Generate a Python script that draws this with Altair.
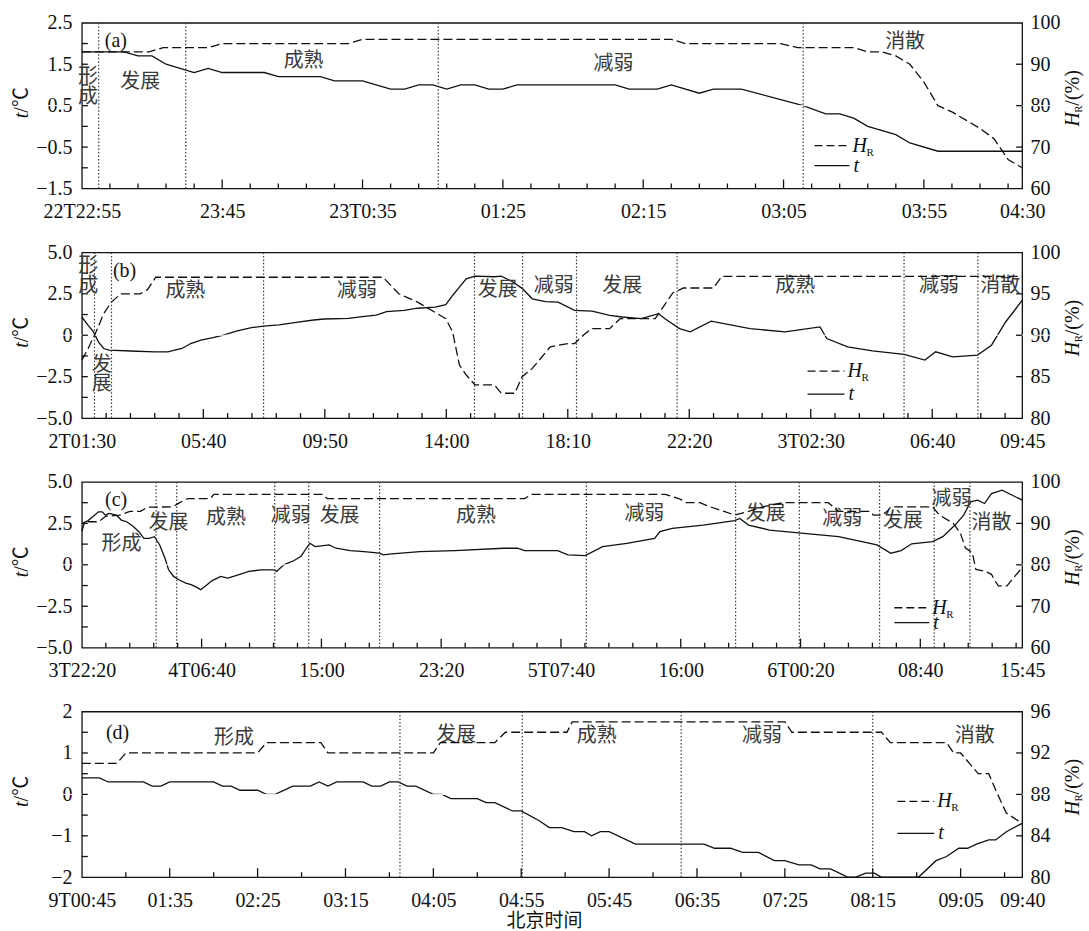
import altair as alt
import pandas as pd

# ---------------- values ----------------
# x = minutes after the first labelled time of each panel

# panel (a)
A_END = 335
A_XLAB_POS = [0, 50, 100, 150, 200, 250, 300, 335]
A_XLAB = ["22T22:55", "23:45", "23T0:35", "01:25", "02:15", "03:05", "03:55", "04:30"]
A_T = [(0, 1.8), (15, 1.8), (20, 1.7), (25, 1.7), (30, 1.5), (40, 1.3), (45, 1.4), (50, 1.3),
       (65, 1.3), (70, 1.2), (85, 1.2), (90, 1.1), (100, 1.1), (110, 0.9), (115, 0.9), (120, 1.0),
       (125, 1.0), (130, 0.9), (135, 1.0), (140, 1.0), (145, 0.9), (150, 0.9), (155, 1.0), (190, 1.0),
       (195, 0.9), (205, 0.9), (210, 1.0), (220, 0.8), (225, 0.9), (235, 0.9), (257, 0.5), (265, 0.3),
       (270, 0.3), (275, 0.2), (280, 0.0), (290, -0.2), (295, -0.4), (305, -0.6), (335, -0.6)]
A_HR = [(0, 93), (24, 93), (29, 94), (45, 94), (50, 95), (95, 95), (100, 96), (210, 96), (215, 95),
        (249, 95), (255, 94), (275, 94), (280, 93), (285, 93), (290, 92), (295, 90), (300, 85.7),
        (305, 80), (310, 78.5), (315, 76.5), (320, 74.5), (325, 72), (328, 69), (330, 67), (335, 65)]
A_STAGES = [6, 37, 127, 257]
A_TEXT = [(2.2, 1.19, "形"), (2.2, 0.71, "成"), (20.8, 1.07, "发展"), (79, 1.57, "成熟"),
          (189.4, 1.51, "减弱"), (293.3, 2.03, "消散")]
A_TAG = (12.1, 2.05, "(a)")

# panel (b)
B_END = 1935
B_XLAB_POS = [0, 250, 500, 750, 1000, 1250, 1500, 1750, 1935]
B_XLAB = ["2T01:30", "05:40", "09:50", "14:00", "18:10", "22:20", "3T02:30", "06:40", "09:45"]
B_T = [(0, 1.1), (13, 0.6), (24, 0.2), (34, -0.4), (45, -0.8), (56, -0.9), (100, -0.95), (150, -1.0),
       (177, -1.0), (191, -0.9), (206, -0.8), (224, -0.5), (245, -0.3), (270, -0.15), (291, 0.0),
       (320, 0.26), (349, 0.46), (374, 0.55), (406, 0.62), (441, 0.78), (477, 0.92), (499, 0.98),
       (549, 1.02), (577, 1.12), (606, 1.22), (627, 1.43), (663, 1.5), (691, 1.63), (727, 1.7),
       (749, 1.85), (763, 2.4), (777, 2.9), (791, 3.4), (809, 3.57), (849, 3.53), (863, 3.57),
       (884, 3.27), (906, 2.83), (927, 2.2), (954, 2.03), (980, 2.0), (1014, 1.5), (1050, 1.45),
       (1086, 1.2), (1112, 1.1), (1151, 1.0), (1187, 1.3), (1200, 1.0), (1230, 0.4), (1252, 0.2),
       (1295, 0.85), (1375, 0.4), (1447, 0.2), (1519, 0.5), (1533, -0.2), (1576, -0.7), (1627, -0.95),
       (1692, -1.15), (1735, -1.5), (1757, -1.0), (1792, -1.3), (1843, -1.2), (1872, -0.6),
       (1901, 0.8), (1935, 2.1)]
B_HR = [(0, 87), (13, 88.4), (30, 90.5), (45, 92.6), (61, 94), (80, 95), (120, 95), (135, 95.5),
        (152, 97), (620, 97), (652, 95), (691, 94), (749, 92), (763, 90.4), (777, 86.4), (791, 85.2),
        (809, 84), (849, 84), (863, 83), (891, 83), (906, 85), (927, 86), (964, 88.6), (1000, 89),
        (1014, 89), (1036, 90.2), (1050, 90.8), (1086, 90.8), (1108, 92), (1180, 92), (1202, 93.9),
        (1216, 95.1), (1238, 95.7), (1300, 95.7), (1317, 97.1), (1935, 97.1)]
B_STAGES = [26, 61, 374, 808, 907, 1018, 1225, 1692, 1844]
B_TEXT = [(13, 4.16, "形"), (13, 2.95, "成"), (41, -1.77, "发"), (41, -2.97, "展"),
          (213, 2.65, "成熟"), (566, 2.65, "减弱"), (856, 2.75, "发展"), (971, 2.95, "减弱"),
          (1112, 2.95, "发展"), (1468, 2.95, "成熟"), (1764, 2.95, "减弱"), (1890, 2.95, "消散")]
B_TAG = (88, 3.86, "(b)")

# panel (c)
C_END = 3925
C_XLAB_POS = [0, 500, 1000, 1500, 2000, 2500, 3000, 3500, 3925]
C_XLAB = ["3T22:20", "4T06:40", "15:00", "23:20", "5T07:40", "16:00", "6T00:20", "08:40", "15:45"]
C_T = [(0, 2.49), (26, 2.67), (70, 3.2), (85, 3.2), (99, 3.0), (114, 3.1), (143, 3.0), (165, 2.7),
       (187, 2.6), (216, 2.3), (238, 2.0), (259, 1.6), (281, 1.6), (303, 1.7), (325, 1.2), (347, 0.4),
       (362, -0.3), (383, -0.7), (405, -0.9), (434, -1.1), (456, -1.2), (478, -1.35), (496, -1.5),
       (515, -1.3), (544, -0.95), (580, -0.7), (609, -0.8), (653, -0.6), (697, -0.4), (748, -0.3),
       (799, -0.3), (813, -0.4), (843, 0.0), (886, 0.26), (915, 0.52), (937, 1.0), (952, 1.3),
       (974, 1.1), (1032, 1.2), (1061, 1.0), (1120, 0.86), (1178, 0.8), (1243, 0.7), (1258, 0.6),
       (1294, 0.66), (1411, 0.8), (1557, 0.86), (1761, 1.0), (1819, 1.0), (1848, 0.86), (1986, 0.86),
       (2029, 0.6), (2101, 0.56), (2174, 1.1), (2275, 1.3), (2391, 1.6), (2413, 2.0), (2464, 2.2),
       (2594, 2.4), (2725, 2.67), (2746, 2.8), (2783, 2.4), (2870, 2.1), (3014, 1.9), (3159, 1.7),
       (3319, 1.2), (3377, 0.7), (3420, 0.86), (3464, 1.27), (3551, 1.4), (3594, 1.7), (3645, 2.4),
       (3681, 3.0), (3710, 3.8), (3739, 3.9), (3768, 3.7), (3797, 4.3), (3841, 4.5), (3884, 4.2),
       (3925, 3.9)]
C_HR = [(0, 88.1), (12, 90.4), (70, 90.4), (99, 91.7), (157, 92), (201, 92.9), (245, 92.9),
        (274, 93.9), (380, 94), (405, 94.9), (442, 96), (536, 96), (551, 97), (1003, 97), (1025, 96),
        (1848, 96), (1878, 97), (2435, 97), (2493, 96), (2522, 95), (2580, 95), (2623, 94),
        (2681, 92.9), (2725, 92), (2783, 92.9), (2841, 94), (2928, 95), (3116, 95), (3159, 92.9),
        (3290, 92.9), (3304, 92), (3340, 92), (3362, 92.9), (3377, 94), (3551, 94), (3580, 92),
        (3638, 90), (3667, 87.7), (3688, 84.1), (3717, 82.9), (3732, 78.9), (3768, 78.5),
        (3797, 77.7), (3812, 76.1), (3826, 74.9), (3862, 74.9), (3884, 76.5), (3925, 79.3)]
C_STAGES = [310, 396, 805, 947, 1243, 2106, 2729, 2995, 3330, 3558, 3707]
C_TEXT = [(165, 1.25, "形成"), (362, 2.55, "发展"), (602, 2.85, "成熟"), (872, 2.95, "减弱"),
          (1076, 2.95, "发展"), (1645, 2.95, "成熟"), (2348, 3.05, "减弱"), (2855, 3.05, "发展"),
          (3174, 2.75, "减弱"), (3428, 2.65, "发展"), (3630, 3.96, "减弱"), (3797, 2.55, "消散")]
C_TAG = (143, 3.9, "(c)")

# panel (d)
D_END = 535
D_XLAB_POS = [0, 50, 100, 150, 200, 250, 300, 350, 400, 450, 500, 535]
D_XLAB = ["9T00:45", "01:35", "02:25", "03:15", "04:05", "04:55", "05:45", "06:35", "07:25",
          "08:15", "09:05", "09:40"]
D_T = [(0, 0.4), (10, 0.4), (15, 0.3), (35, 0.3), (40, 0.2), (45, 0.2), (50, 0.3), (75, 0.3),
       (80, 0.2), (85, 0.2), (90, 0.1), (100, 0.1), (105, 0.0), (110, 0.0), (120, 0.2), (130, 0.2),
       (135, 0.3), (140, 0.2), (145, 0.3), (160, 0.3), (165, 0.2), (170, 0.2), (175, 0.3), (180, 0.3),
       (185, 0.2), (190, 0.2), (200, 0.0), (205, 0.0), (210, -0.1), (225, -0.1), (230, -0.2),
       (235, -0.2), (245, -0.4), (250, -0.4), (260, -0.63), (266, -0.8), (273, -0.8), (280, -0.9),
       (286, -0.9), (290, -1.0), (295, -0.9), (300, -0.9), (315, -1.2), (354, -1.2), (360, -1.3),
       (369, -1.3), (376, -1.4), (385, -1.4), (394, -1.6), (400, -1.6), (408, -1.7), (415, -1.7),
       (420, -1.8), (426, -1.8), (436, -2.0), (440, -2.0), (446, -1.9), (451, -1.9), (455, -2.0),
       (476, -2.0), (486, -1.6), (492, -1.5), (499, -1.3), (504, -1.3), (509, -1.2), (516, -1.1),
       (520, -1.1), (526, -0.9), (535, -0.7)]
D_HR = [(0, 91), (20, 91), (25, 92), (100, 92), (105, 93), (136, 93), (140, 92), (200, 92),
        (204, 93), (235, 93), (241, 94), (276, 94), (279, 95), (400, 95), (404, 94), (455, 94),
        (460, 93), (492, 93), (496, 92), (500, 92), (510, 90), (516, 90), (520, 88.4), (526, 86.2),
        (535, 85.2)]
D_STAGES = [181, 250.6, 341, 450]
D_TEXT = [(86.5, 1.36, "形成"), (213, 1.44, "发展"), (293, 1.4, "成熟"), (387, 1.4, "减弱"),
          (508, 1.4, "消散")]
D_TAG = (20.3, 1.49, "(d)")

# axes
A_TDOM, A_TLAB, A_TTICK = [-1.5, 2.5], [-1.5, -0.5, 0.5, 1.5, 2.5], [-1.0, -0.5, 0, 0.5, 1.0, 1.5, 2.0]
B_TDOM, B_TLAB, B_TTICK = [-5, 5], [-5, -2.5, 0, 2.5, 5], [-3.75, -2.5, -1.25, 0, 1.25, 2.5, 3.75]
C_TDOM, C_TLAB, C_TTICK = [-5, 5], [-5, -2.5, 0, 2.5, 5], [-3.75, -2.5, -1.25, 0, 1.25, 2.5, 3.75]
D_TDOM, D_TLAB, D_TTICK = [-2, 2], [-2, -1, 0, 1, 2], [-1.5, -1, -0.5, 0, 0.5, 1, 1.5]
A_HDOM, A_HLAB = [60, 100], [60, 70, 80, 90, 100]
B_HDOM, B_HLAB = [80, 100], [80, 85, 90, 95, 100]
C_HDOM, C_HLAB = [60, 100], [60, 70, 80, 90, 100]
D_HDOM, D_HLAB = [80, 96], [80, 84, 88, 92, 96]

# ---------------- layout / style ----------------
W, H = 942, 166
SERIF = "Liberation Serif"
MIXED = "Liberation Serif, Noto Sans CJK SC"
CJK = "Noto Sans CJK SC"
INK = "#111111"
GREY = "#3a3a3a"
FS = 20      # tick labels
FSC = 20     # Chinese stage labels

PANELS = [
    dict(end=A_END, xpos=A_XLAB_POS, xlab=A_XLAB, t=A_T, hr=A_HR, stages=A_STAGES, text=A_TEXT,
         tag=A_TAG, tdom=A_TDOM, tlab=A_TLAB, ttick=A_TTICK, tfmt="1f", hdom=A_HDOM, hlab=A_HLAB,
         major=50, minor=10, legend=(734, 769, 123, 143)),
    dict(end=B_END, xpos=B_XLAB_POS, xlab=B_XLAB, t=B_T, hr=B_HR, stages=B_STAGES, text=B_TEXT,
         tag=B_TAG, tdom=B_TDOM, tlab=B_TLAB, ttick=B_TTICK, tfmt="1z", hdom=B_HDOM, hlab=B_HLAB,
         major=250, minor=50, legend=(727, 764, 119, 142)),
    dict(end=C_END, xpos=C_XLAB_POS, xlab=C_XLAB, t=C_T, hr=C_HR, stages=C_STAGES, text=C_TEXT,
         tag=C_TAG, tdom=C_TDOM, tlab=C_TLAB, ttick=C_TTICK, tfmt="1z", hdom=C_HDOM, hlab=C_HLAB,
         major=500, minor=100, legend=(814, 849, 126, 141)),
    dict(end=D_END, xpos=D_XLAB_POS, xlab=D_XLAB, t=D_T, hr=D_HR, stages=D_STAGES, text=D_TEXT,
         tag=D_TAG, tdom=D_TDOM, tlab=D_TLAB, ttick=D_TTICK, tfmt="0f", hdom=D_HDOM, hlab=D_HLAB,
         major=50, minor=25, legend=(817, 854, 90, 122)),
]

ONE = pd.DataFrame({"k": [0]})


def label_expr(pos, lab):
    expr = "''"
    for p, s in reversed(list(zip(pos, lab))):
        expr = f"(datum.value == {p} ? '{s}' : {expr})"
    return expr


def vtext(x, y, s, **kw):
    return alt.Chart(ONE).mark_text(text=s, **kw).encode(x=alt.value(x), y=alt.value(y))


def build_panel(cfg, idx, last):
    xs = alt.Scale(domain=[0, cfg["end"]], nice=False, zero=False)
    ts = alt.Scale(domain=cfg["tdom"], nice=False, zero=False)
    hs = alt.Scale(domain=cfg["hdom"], nice=False, zero=False)

    xaxis_kw = dict(values=cfg["xpos"], labelExpr=label_expr(cfg["xpos"], cfg["xlab"]), ticks=False,
                    domain=False, grid=False, labelPadding=13, labelFlush=False, labelOverlap=False,
                    labelFont=SERIF, labelFontSize=FS, labelColor=INK, labelAngle=0)
    if last:
        xaxis_kw.update(title="北京时间", titleFont=CJK, titleFontSize=19, titleFontWeight="normal",
                        titleColor=INK, titlePadding=1, titleX=463, titleAlign="center")
    else:
        xaxis_kw.update(title=None)
    xaxis = alt.Axis(**xaxis_kw)

    if cfg["tfmt"] == "1z":
        texpr = "datum.value == 0 ? '0' : format(datum.value, '.1f')"
    elif cfg["tfmt"] == "1f":
        texpr = "format(datum.value, '.1f')"
    else:
        texpr = "format(datum.value, '.0f')"
    taxis = alt.Axis(values=cfg["tlab"], labelExpr=texpr, ticks=False, domain=False, grid=False,
                     labelPadding=10, labelFlush=False, labelOverlap=False, labelFont=SERIF,
                     labelFontSize=FS, labelColor=INK, title=None, orient="left")
    haxis = alt.Axis(values=cfg["hlab"], format="d", ticks=False, domain=False, grid=False,
                     labelPadding=8, labelFlush=False, labelOverlap=False, labelFont=SERIF,
                     labelFontSize=FS, labelColor=INK, title=None, orient="right")

    t_df = pd.DataFrame(cfg["t"], columns=["m", "v"])
    hr_df = pd.DataFrame(cfg["hr"], columns=["m", "v"])
    st_df = pd.DataFrame({"m": cfg["stages"]})
    tx_df = pd.DataFrame(cfg["text"], columns=["m", "v", "s"])
    tag_df = pd.DataFrame([cfg["tag"]], columns=["m", "v", "s"])
    end = cfg["end"]
    maj_df = pd.DataFrame({"m": [m for m in range(cfg["major"], end + 1, cfg["major"])]})
    min_df = pd.DataFrame({"m": [m for m in range(cfg["minor"], end, cfg["minor"]) if m % cfg["major"]]})
    tt_df = pd.DataFrame({"v": cfg["ttick"]})
    ht_df = pd.DataFrame({"v": cfg["hlab"][1:-1]})

    # every encoding on a scale carries the same axis definition so the layers merge cleanly
    X = lambda: alt.X("m:Q", scale=xs, axis=xaxis)
    YT = lambda: alt.Y("v:Q", scale=ts, axis=taxis)
    YH = lambda: alt.Y("v:Q", scale=hs, axis=haxis)

    t_line = alt.Chart(t_df).mark_line(color=INK, strokeWidth=1.3).encode(x=X(), y=YT())
    stages = alt.Chart(st_df).mark_rule(color=GREY, strokeWidth=1.2, strokeDash=[1.5, 2]).encode(x=X())
    labels = alt.Chart(tx_df).mark_text(font=CJK, fontSize=FSC, color=GREY).encode(
        x=X(), y=YT(), text="s:N")
    tag = alt.Chart(tag_df).mark_text(font=SERIF, fontSize=FS, color=INK).encode(
        x=X(), y=YT(), text="s:N")
    xmaj = alt.Chart(maj_df).mark_rule(color=INK, strokeWidth=1.3).encode(
        x=X(), y=alt.value(H), y2=alt.value(H - 9))
    xmin = alt.Chart(min_df).mark_rule(color=INK, strokeWidth=1.3).encode(
        x=X(), y=alt.value(H), y2=alt.value(H - 5))
    yt = alt.Chart(tt_df).mark_rule(color=INK, strokeWidth=1.3).encode(
        y=YT(), x=alt.value(0), x2=alt.value(6))

    x0, x1, yd, ys = cfg["legend"]
    leg = [
        alt.Chart(ONE).mark_rule(color=INK, strokeWidth=1.3, strokeDash=[8, 4]).encode(
            x=alt.value(x0), x2=alt.value(x1), y=alt.value(yd)),
        alt.Chart(ONE).mark_rule(color=INK, strokeWidth=1.3).encode(
            x=alt.value(x0), x2=alt.value(x1), y=alt.value(ys)),
        vtext(x1 + 3, yd, "H", font=SERIF, fontSize=FS, fontStyle="italic", color=INK,
              align="left", baseline="middle"),
        vtext(x1 + 17, yd + 7, "R", font=SERIF, fontSize=11, color=INK, align="left", baseline="middle"),
        vtext(x1 + 4, ys, "t", font=SERIF, fontSize=FS, fontStyle="italic", color=INK,
              align="left", baseline="middle"),
    ]
    ltitle = [
        vtext(-60, 90, "t", font=SERIF, fontSize=FS, fontStyle="italic", color=INK, angle=270,
              align="right", baseline="middle"),
        vtext(-60, 90, "/℃", font=MIXED, fontSize=FS, color=INK, angle=270,
              align="left", baseline="middle"),
    ]
    anchors = [alt.Chart(ONE).mark_rule(color="white", strokeWidth=1).encode(
        x=alt.value(-80.5), x2=alt.value(W + 65.5), y=alt.value(H / 2))]
    if idx == 0:
        anchors.append(alt.Chart(ONE).mark_rule(color="white", strokeWidth=1).encode(
            x=alt.value(-60), x2=alt.value(-50), y=alt.value(-20.5)))
    if last:
        anchors.append(alt.Chart(ONE).mark_rule(color="white", strokeWidth=1).encode(
            x=alt.value(-60), x2=alt.value(-50), y=alt.value(H + 52.5)))

    left = alt.layer(t_line, *anchors, stages, labels, tag, xmaj, xmin, yt, *leg, *ltitle)

    hr_line = alt.Chart(hr_df).mark_line(color=INK, strokeWidth=1.3, strokeDash=[9, 4]).encode(
        x=X(), y=YH())
    ht = alt.Chart(ht_df).mark_rule(color=INK, strokeWidth=1.3).encode(
        y=YH(), x=alt.value(W), x2=alt.value(W - 6))
    P2 = 104
    rtitle = [
        vtext(W + 51, P2, "H", font=SERIF, fontSize=FS, fontStyle="italic", color=INK, angle=270,
              align="left", baseline="middle"),
        vtext(W + 57, P2 - 14, "R", font=SERIF, fontSize=11, color=INK, angle=270,
              align="left", baseline="middle"),
        vtext(W + 51, P2 - 21, "/(%)", font=SERIF, fontSize=FS, color=INK, angle=270,
              align="left", baseline="middle"),
    ]
    right = alt.layer(hr_line, ht, *rtitle)

    return alt.layer(left, right).resolve_scale(y="independent").properties(width=W, height=H)


charts = [build_panel(cfg, i, i == len(PANELS) - 1) for i, cfg in enumerate(PANELS)]
chart = alt.vconcat(*charts, spacing=64, bounds="flush").properties(
    padding={"left": 0, "top": 0, "right": 0, "bottom": 0}, background="white"
).configure_view(stroke=INK, strokeWidth=1.3)

chart.save("out.html", embed_options={"renderer": "svg", "actions": False})
